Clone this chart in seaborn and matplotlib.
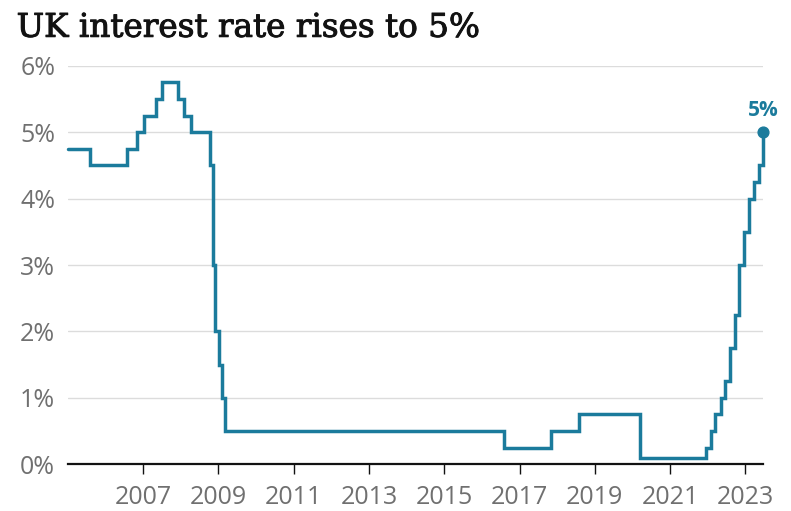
import matplotlib
matplotlib.use("Agg")
import matplotlib.pyplot as plt
import matplotlib.patheffects as pe
import pandas as pd
import seaborn as sns

# Bank Rate change dates and new rates (%)
change_dates = [
    "2005-01-01", "2005-08-04", "2006-08-03", "2006-11-09", "2007-01-11",
    "2007-05-10", "2007-07-05", "2007-12-06", "2008-02-07", "2008-04-10",
    "2008-10-08", "2008-11-06", "2008-12-04", "2009-01-08", "2009-02-05",
    "2009-03-05", "2016-08-04", "2017-11-02", "2018-08-02", "2020-03-11",
    "2020-03-19", "2021-12-16", "2022-02-03", "2022-03-17", "2022-05-05",
    "2022-06-16", "2022-08-04", "2022-09-22", "2022-11-03", "2022-12-15",
    "2023-02-02", "2023-03-23", "2023-05-11", "2023-06-22",
]
rates = [
    4.75, 4.5, 4.75, 5.0, 5.25,
    5.5, 5.75, 5.5, 5.25, 5.0,
    4.5, 3.0, 2.0, 1.5, 1.0,
    0.5, 0.25, 0.5, 0.75, 0.25,
    0.1, 0.25, 0.5, 0.75, 1.0,
    1.25, 1.75, 2.25, 3.0, 3.5,
    4.0, 4.25, 4.5, 5.0,
]
tick_years = [2007, 2009, 2011, 2013, 2015, 2017, 2019, 2021, 2023]
y_ticks = [0, 1, 2, 3, 4, 5, 6]
title = "UK interest rate rises to 5%"
end_label = "5%"

df = pd.DataFrame({"date": pd.to_datetime(change_dates), "rate": rates})

sns.set_theme(style="white")
plt.rcParams["font.family"] = ["Open Sans", "DejaVu Sans"]

LINE = "#1b7b9c"
GREY = "#707070"

fig = plt.figure(figsize=(7.91, 5.11), dpi=100)
ax = fig.add_axes([0.0856, 0.0914, 0.965 - 0.0856, 0.8714 - 0.0914])

sns.lineplot(data=df, x="date", y="rate", ax=ax, drawstyle="steps-post",
             color=LINE, linewidth=2.5, zorder=3)
for ln in ax.get_lines():
    ln.set_clip_on(False)
    ln.set_solid_joinstyle("miter")
last = df.iloc[-1]
ax.scatter([last["date"]], [last["rate"]], s=60, color=LINE, zorder=4, clip_on=False)
ax.annotate(end_label, (last["date"], last["rate"]), xytext=(0, 8),
            textcoords="offset points", ha="center", va="bottom",
            fontsize=15, fontweight="bold", color=LINE)

ax.set_xlim(pd.Timestamp("2005-01-01"), pd.Timestamp("2023-06-24"))
ax.set_ylim(0, 6)
ax.set_yticks(y_ticks)
ax.set_yticklabels([f"{v}%" for v in y_ticks])
ax.set_xticks([pd.Timestamp(f"{y}-01-01") for y in tick_years])
ax.set_xticklabels([str(y) for y in tick_years])

ax.grid(axis="y", color="#dcdcdc", linewidth=1)
ax.grid(axis="x", visible=False)
for s in ["top", "right", "left"]:
    ax.spines[s].set_visible(False)
ax.spines["bottom"].set_color("#121212")
ax.spines["bottom"].set_linewidth(1.6)
ax.spines["bottom"].set_zorder(5)

ax.tick_params(axis="y", length=0, pad=9, labelsize=18, labelcolor=GREY)
ax.tick_params(axis="x", length=7, width=1, color="#121212", direction="out",
               pad=8, labelsize=18, labelcolor=GREY, bottom=True)
ax.set_xlabel("")
ax.set_ylabel("")

fig.text(0.021, 0.928, title, family=["DejaVu Serif"], fontsize=23.5,
         color="#121212", ha="left", va="baseline",
         path_effects=[pe.withStroke(linewidth=0.7, foreground="#121212")])

fig.savefig("out.png", dpi=100)
